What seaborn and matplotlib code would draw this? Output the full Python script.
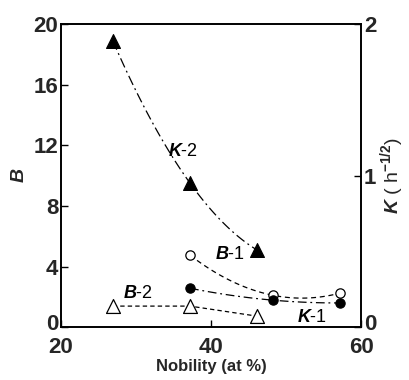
import matplotlib
matplotlib.use("Agg")
import matplotlib.pyplot as plt
import matplotlib.transforms as mtransforms
import seaborn as sns
import numpy as np
import pandas as pd

# Nobility (at %) and measured values
nobility_a = [26.9, 37.2, 46.1]
nobility_b = [37.2, 48.3, 57.2]
k2_values = [1.89, 0.95, 0.51]      # K-2, right axis (h^-1/2)
b2_values = [1.39, 1.39, 0.73]      # B-2, left axis
b1_values = [4.75, 2.10, 2.25]      # B-1, left axis
k1_values = [0.257, 0.178, 0.160]   # K-1, right axis (h^-1/2)

x_ticks = [20, 40, 60]
b_ticks = [0, 4, 8, 12, 16, 20]
k_ticks = [0, 1, 2]

sns.set_theme(style="white")
plt.rcParams["font.family"] = ["Liberation Sans", "DejaVu Sans"]
plt.rcParams["mathtext.fontset"] = "custom"
plt.rcParams["mathtext.rm"] = "Liberation Sans:bold"
plt.rcParams["mathtext.bf"] = "Liberation Sans:bold"
plt.rcParams["mathtext.it"] = "Liberation Sans:bold:italic"

fig = plt.figure(figsize=(4.09, 3.80), dpi=100)
ax = fig.add_axes([0.149, 0.139, 0.734, 0.798])
ax2 = ax.twinx()

df_a = pd.DataFrame({"x": nobility_a, "k2": k2_values, "b2": b2_values})
df_b = pd.DataFrame({"x": nobility_b, "b1": b1_values, "k1": k1_values})

lw = 0.9
# K-2 fitted curve (right axis)
sns.regplot(data=df_a, x="x", y="k2", order=2, ci=None, scatter=False, ax=ax2,
            color="black", line_kws=dict(lw=lw, ls=(0, (8, 3, 1.5, 3))))
sns.scatterplot(data=df_a, x="x", y="k2", ax=ax2, marker="^", s=100,
                color="black", edgecolor="black", linewidth=0.8, zorder=5)
# K-1 fitted curve (right axis)
sns.regplot(data=df_b, x="x", y="k1", order=2, ci=None, scatter=False, ax=ax2,
            color="black", line_kws=dict(lw=lw, ls=(0, (7, 3, 1.5, 3))))
sns.scatterplot(data=df_b, x="x", y="k1", ax=ax2, marker="o", s=45,
                color="black", edgecolor="black", linewidth=0.8, zorder=5)
# B-1 fitted curve (left axis)
sns.regplot(data=df_b, x="x", y="b1", order=2, ci=None, scatter=False, ax=ax,
            color="black", line_kws=dict(lw=lw, ls=(0, (4, 3))))
sns.scatterplot(data=df_b, x="x", y="b1", ax=ax, marker="o", s=45,
                facecolor="white", edgecolor="black", linewidth=0.9, zorder=5)
# B-2 (left axis)
sns.lineplot(data=df_a, x="x", y="b2", ax=ax, color="black", lw=lw,
             ls=(0, (3.5, 2.5)))
sns.scatterplot(data=df_a, x="x", y="b2", ax=ax, marker="^", s=100,
                facecolor="white", edgecolor="black", linewidth=0.9, zorder=5)

for a in (ax, ax2):
    a.set_xlim(20, 60)
    for s in a.spines.values():
        s.set_color("black")
        s.set_linewidth(1.2)
ax.set_ylim(0, 20)
ax2.set_ylim(0, 2)

ax.set_xticks(x_ticks)
ax.set_xticks([30, 50], minor=True)
ax.set_yticks(b_ticks)
ax2.set_yticks(k_ticks)
tick_font = dict(fontsize=16, fontweight="bold")
ax.set_xticklabels([str(v) for v in x_ticks], **tick_font)
ax.set_yticklabels([str(v) for v in b_ticks], **tick_font)
ax2.set_yticklabels([str(v) for v in k_ticks], **tick_font)
ax.tick_params(axis="both", which="both", direction="in", length=5,
               width=1, color="black", pad=2)
ax.tick_params(axis="x", which="major", pad=7)
ax.tick_params(axis="y", left=True, right=False)
ax.tick_params(axis="x", bottom=True, top=False)
ax2.tick_params(axis="y", direction="in", length=5, width=1, color="black",
                right=True, pad=2)

# Lift the two "0" labels slightly so they clear the x tick labels
lift = mtransforms.ScaledTranslation(0, 4 / 72, fig.dpi_scale_trans)
for lbl in (ax.get_yticklabels()[0], ax2.get_yticklabels()[0]):
    lbl.set_transform(lbl.get_transform() + lift)

ax.set_xlabel("Nobility (at %)", fontsize=12, fontweight="bold", labelpad=1)
ax.set_ylabel("$B$", fontsize=14, labelpad=4)
ax2.set_ylabel("$K$ ( h$^{-1/2}$)", fontsize=14, labelpad=1)

# Curve labels
lab = dict(fontsize=13, color="black", va="baseline")
ax.text(34.3, 11.3, "$K$-2", **lab)
ax.text(40.5, 4.5, "$B$-1", **lab)
ax.text(28.3, 1.9, "$B$-2", **lab)
ax.text(51.5, 0.35, "$K$-1", **lab)

fig.savefig("out.png", dpi=100)
